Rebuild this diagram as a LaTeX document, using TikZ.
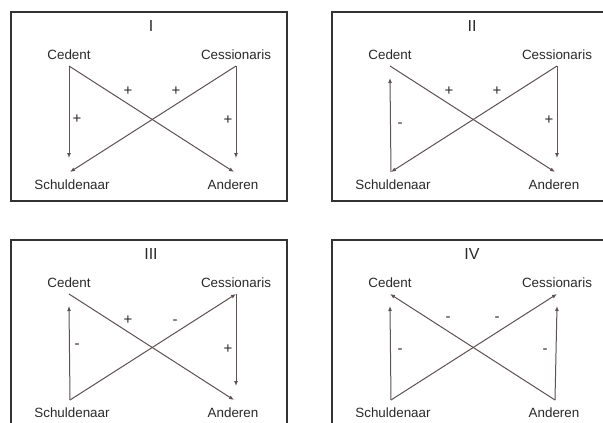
\documentclass[tikz,border=0pt]{standalone}
\usepackage{fontspec}
\setmainfont{Liberation Sans}
\usetikzlibrary{arrows.meta}
\definecolor{framec}{HTML}{333333}
\definecolor{linec}{HTML}{5E5252}
\definecolor{textc}{HTML}{2A2A2A}
\tikzset{
  frame/.style={draw=framec,line width=1.7pt},
  conn/.style={draw=linec,line width=1pt},
  arr/.style={conn,-{Latex[length=5pt,width=4pt]}},
  lbl/.style={text=textc,font=\fontsize{13.4}{15}\selectfont,inner sep=0pt},
  ttl/.style={text=textc,font=\fontsize{16}{18}\selectfont,inner sep=0pt},
  sgn/.style={text=textc,font=\fontsize{15}{17}\selectfont,inner sep=0pt},
}
\newcommand{\panelbase}[2]{%
  \draw[frame] (11,12) rectangle (287,201);
  \node[ttl] (t#1) at (151,26) {#2};
  \node[lbl] (ced#1) at (69,55) {Cedent};
  \node[lbl] (ces#1) at (236,55) {Cessionaris};
  \node[lbl] (sch#1) at (72,185) {Schuldenaar};
  \node[lbl] (and#1) at (233,185) {Anderen};
  \coordinate (ct#1) at (69,66);
  \coordinate (ctv#1) at (69,78);
  \coordinate (kt#1) at (236,66);
  \coordinate (ktv#1) at (236,78);
  \coordinate (sb#1) at (70,172);
  \coordinate (sbv#1) at (69,158);
  \coordinate (db#1) at (234,172);
  \coordinate (dbv#1) at (236,158);
}
\begin{document}
\begin{tikzpicture}[x=1pt,y=-1pt]
\useasboundingbox (0,0) rectangle (603,423);
\fill[white] (0,0) rectangle (603,423);
\clip (0,0) rectangle (603,423);
% Panel I
\begin{scope}
  \panelbase{a}{I}
  \draw[arr] (cta) -- (sbva);
  \draw[arr] (cta) -- (dba);
  \draw[arr] (kta) -- (sba);
  \draw[arr] (kta) -- (dbva);
  \node[sgn] (pa1) at (128,91) {+};
  \node[sgn] (pa2) at (176,91) {+};
  \node[sgn] (pa3) at (77,119) {+};
  \node[sgn] (pa4) at (228,120) {+};
\end{scope}
% Panel II
\begin{scope}[shift={(321,0)}]
  \panelbase{b}{II}
  \draw[arr] (sbb) -- (ctvb);
  \draw[arr] (ctb) -- (dbb);
  \draw[arr] (ktb) -- (sbb);
  \draw[arr] (ktb) -- (dbvb);
  \node[sgn] (pb1) at (128,91) {+};
  \node[sgn] (pb2) at (176,91) {+};
  \node[sgn] (pb3) at (79,125) {-};
  \node[sgn] (pb4) at (228,120) {+};
\end{scope}
% Panel III
\begin{scope}[shift={(0,228)}]
  \panelbase{c}{III}
  \draw[arr] (sbc) -- (ctvc);
  \draw[arr] (ctc) -- (dbc);
  \draw[arr] (sbc) -- (ktc);
  \draw[arr] (ktc) -- (dbvc);
  \node[sgn] (pc1) at (128,92) {+};
  \node[sgn] (pc2) at (175,94) {-};
  \node[sgn] (pc3) at (77,118) {-};
  \node[sgn] (pc4) at (228,121) {+};
\end{scope}
% Panel IV
\begin{scope}[shift={(321,228)}]
  \panelbase{d}{IV}
  \draw[arr] (sbd) -- (ctvd);
  \draw[arr] (dbd) -- (ctd);
  \draw[arr] (sbd) -- (ktd);
  \draw[arr] (dbd) -- (ktvd);
  \node[sgn] (pd1) at (127,91) {-};
  \node[sgn] (pd2) at (176,91) {-};
  \node[sgn] (pd3) at (79,123) {-};
  \node[sgn] (pd4) at (224,123) {-};
\end{scope}
\end{tikzpicture}
\end{document}
